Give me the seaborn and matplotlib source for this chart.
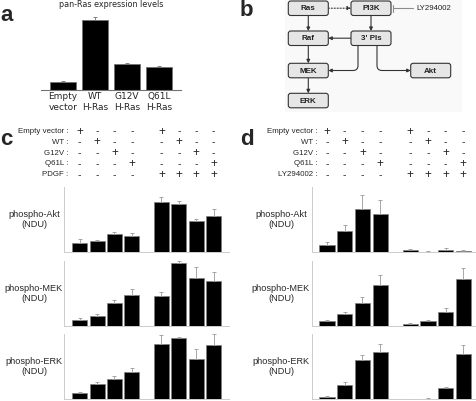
import numpy as np
import pandas as pd
import matplotlib
matplotlib.use("Agg")
import matplotlib.pyplot as plt
import matplotlib.transforms as mtransforms
from matplotlib.patches import FancyBboxPatch, Rectangle
import seaborn as sns

# ---- data ----
ras_labels = ["Empty\nvector", "WT\nH-Ras", "G12V\nH-Ras", "Q61L\nH-Ras"]
ras_level = [0.115, 1.0, 0.366, 0.323]
ras_err = [0.014, 0.043, 0.014, 0.019]

bar_pos = [0, 1, 2, 3, 4.7, 5.7, 6.7, 7.7]

c_akt = [0.40, 0.49, 0.82, 0.74, 2.32, 2.21, 1.41, 1.65]
c_akt_err = [0.20, 0.05, 0.12, 0.15, 0.21, 0.14, 0.12, 0.34]
c_mek = [0.26, 0.47, 1.05, 1.41, 1.37, 2.89, 2.20, 2.07]
c_mek_err = [0.09, 0.08, 0.14, 0.29, 0.20, 0.10, 0.52, 0.40]
c_erk = [0.29, 0.71, 0.94, 1.27, 2.53, 2.82, 1.84, 2.49]
c_erk_err = [0.06, 0.09, 0.14, 0.17, 0.43, 0.06, 0.49, 0.52]

d_akt = [0.32, 0.97, 1.99, 1.77, 0.10, 0.02, 0.08, 0.06]
d_akt_err = [0.14, 0.26, 0.62, 0.65, 0.06, 0.01, 0.10, 0.03]
d_mek = [0.22, 0.57, 1.07, 1.89, 0.11, 0.22, 0.66, 2.15]
d_mek_err = [0.06, 0.08, 0.25, 0.46, 0.03, 0.04, 0.16, 0.51]
d_erk = [0.10, 0.65, 1.81, 2.17, 0.01, 0.03, 0.52, 2.10]
d_erk_err = [0.05, 0.14, 0.22, 0.37, 0.01, 0.01, 0.05, 0.39]

row_labels_c = ["Empty vector :", "WT :", "G12V :", "Q61L :", "PDGF :"]
row_labels_d = ["Empty vector :", "WT :", "G12V :", "Q61L :", "LY294002 :"]
row_signs = ["+---+---", "-+---+--", "--+---+-", "---+---+", "----++++"]
ylabels = ["phospho-Akt\n(NDU)", "phospho-MEK\n(NDU)", "phospho-ERK\n(NDU)"]

W, H = 477, 401
fig = plt.figure(figsize=(W / 100, H / 100), dpi=100)
sns.set_style("white")
plt.rcParams["font.family"] = ["DejaVu Sans"]
side_font = ["Liberation Sans", "DejaVu Sans"]


def px_axes(x0, y0, x1, y1):
    # axes from pixel box (top-left origin)
    return fig.add_axes([x0 / W, 1 - y1 / H, (x1 - x0) / W, (y1 - y0) / H])


# ---- panel a ----
ax_a = px_axes(40.7, 10, 181, 89.7)
sns.barplot(x=ras_labels, y=ras_level, color="black", edgecolor="0.45",
            linewidth=0.6, width=0.83, ax=ax_a)
ax_a.errorbar(range(4), ras_level, yerr=[np.zeros(4), ras_err], fmt="none",
              ecolor="0.45", elinewidth=0.6, capsize=1.2, capthick=0.6)
ax_a.set_xlim(-0.7, 3.69)
ax_a.set_ylim(0, 1.15)
ax_a.set_yticks([])
sns.despine(ax=ax_a, left=True)
ax_a.spines["bottom"].set_color("0.45")
ax_a.spines["bottom"].set_linewidth(0.8)
ax_a.tick_params(axis="x", length=0, labelsize=6.5, pad=2)
ax_a.set_title("pan-Ras expression levels", fontsize=5.8, pad=2)

# ---- panels c and d ----
def bar_panel(ax, vals, errs, xlim, ylabel, lab_x):
    df = pd.DataFrame({"pos": bar_pos, "val": vals})
    sns.barplot(data=df, x="pos", y="val", native_scale=True, color="black",
                edgecolor="0.5", linewidth=0.5, width=0.86, ax=ax)
    ax.errorbar(bar_pos, vals, yerr=[np.zeros(len(vals)), errs], fmt="none",
                ecolor="0.6", elinewidth=0.6, capsize=1.2, capthick=0.6)
    ax.set_xlim(*xlim)
    ax.set_ylim(0, 3)
    ax.set_yticks([0, 1, 2, 3])
    ax.set_yticklabels([])
    ax.set_xticks([3.85])
    ax.set_xticklabels([])
    ax.set_xlabel("")
    ax.set_ylabel("")
    sns.despine(ax=ax)
    for s in ["left", "bottom"]:
        ax.spines[s].set_color("0.8")
        ax.spines[s].set_linewidth(0.7)
    ax.tick_params(length=2, width=0.6, color="0.75", direction="out")
    ymid = 0.5 * (ax.get_position().y0 + ax.get_position().y1)
    fig.text(lab_x / W, ymid, ylabel, ha="center", va="center",
             fontsize=6.6, family=side_font, linespacing=1.1)


c_rows = [(187, 252), (261, 326), (334.3, 399.3)]
c_vals = [(c_akt, c_akt_err), (c_mek, c_mek_err), (c_erk, c_erk_err)]
d_vals = [(d_akt, d_akt_err), (d_mek, d_mek_err), (d_erk, d_erk_err)]

axes_c, axes_d = [], []
for (y0, y1), (v, e), lab in zip(c_rows, c_vals, ylabels):
    ax = px_axes(64.3, y0, 229.3, y1)
    bar_panel(ax, v, e, (-0.885, 8.6), lab, 34)
    axes_c.append(ax)
for (y0, y1), (v, e), lab in zip(c_rows, d_vals, ylabels):
    ax = px_axes(312.3, y0, 477, y1)
    bar_panel(ax, v, e, (-0.83, 8.47), lab, 281)
    axes_d.append(ax)

# condition tables above c and d
row_y = [131.5, 142.3, 153.3, 163.7, 175]
for ax_top, labels, lab_x in [(axes_c[0], row_labels_c, 68.5),
                              (axes_d[0], row_labels_d, 317.5)]:
    tr = mtransforms.blended_transform_factory(ax_top.transData, fig.transFigure)
    for y, lab, signs in zip(row_y, labels, row_signs):
        fig.text(lab_x / W, 1 - y / H, lab, ha="right", va="center",
                 fontsize=5.7, family=side_font)
        for p, s in zip(bar_pos, signs):
            ax_top.text(p, 1 - y / H, s, transform=tr, ha="center", va="center",
                        fontsize=8.5 if s == "+" else 7.5, family=side_font,
                        clip_on=False)

# ---- panel b: pathway diagram ----
ax_b = fig.add_axes([0, 0, 1, 1], facecolor="none")
ax_b.set_xlim(0, W)
ax_b.set_ylim(H, 0)
ax_b.axis("off")
ax_b.add_patch(Rectangle((285, 0), 177, 112, facecolor="#f9f9f9",
                         edgecolor="none", zorder=0))

boxes = {"Ras": (288.3, 1), "PI3K": (351, 1), "Raf": (288.3, 31),
         "3' PIs": (351, 31), "MEK": (288.3, 63.3), "Akt": (410.7, 63.3),
         "ERK": (288.3, 93.3)}
bw, bh = 40, 14.5
for name, (bx, by) in boxes.items():
    ax_b.add_patch(FancyBboxPatch((bx, by), bw, bh,
                                  boxstyle="round,pad=0,rounding_size=2.5",
                                  facecolor="#e6e6e6", edgecolor="#333333",
                                  linewidth=0.8, zorder=2))
    ax_b.text(bx + bw / 2, by + bh / 2 + 0.5, name, ha="center", va="center",
              fontsize=5.8, fontweight="bold", color="#222222",
              family=side_font, zorder=3)

arrow_kw = dict(arrowstyle="-|>", color="#333333", lw=0.8, mutation_scale=5,
                shrinkA=0, shrinkB=0)


def arrow(x0, y0, x1, y1, **kw):
    props = dict(arrow_kw)
    props.update(kw)
    ax_b.annotate("", xy=(x1, y1), xytext=(x0, y0), arrowprops=props, zorder=1)


arrow(328.3, 8.2, 351, 8.2, linestyle=":")
arrow(308.3, 15.5, 308.3, 31)
arrow(371, 15.5, 371, 31)
arrow(351, 38.2, 328.3, 38.2)
arrow(308.3, 45.5, 308.3, 63.3)
arrow(308.3, 77.8, 308.3, 93.3)
arrow(358, 45.5, 328.3, 70.5, connectionstyle="angle,angleA=90,angleB=0,rad=5")
arrow(377, 45.5, 410.7, 70.5, connectionstyle="angle,angleA=90,angleB=0,rad=5")

# inhibitor
ax_b.plot([393, 413], [8.2, 8.2], color="0.55", lw=0.8)
ax_b.plot([393, 393], [4.5, 12], color="0.55", lw=0.8)
ax_b.text(416, 8.2, "LY294002", ha="left", va="center", fontsize=5.6,
          family=side_font, color="#222222")

# ---- panel letters ----
for letter, (lx, ly) in {"a": (0, 21), "b": (240, 16), "c": (0, 145),
                         "d": (240, 145)}.items():
    fig.text(lx / W, 1 - ly / H, letter, ha="left", va="baseline",
             fontsize=16, fontweight="bold", family=side_font)

fig.savefig("out.png", dpi=100)
